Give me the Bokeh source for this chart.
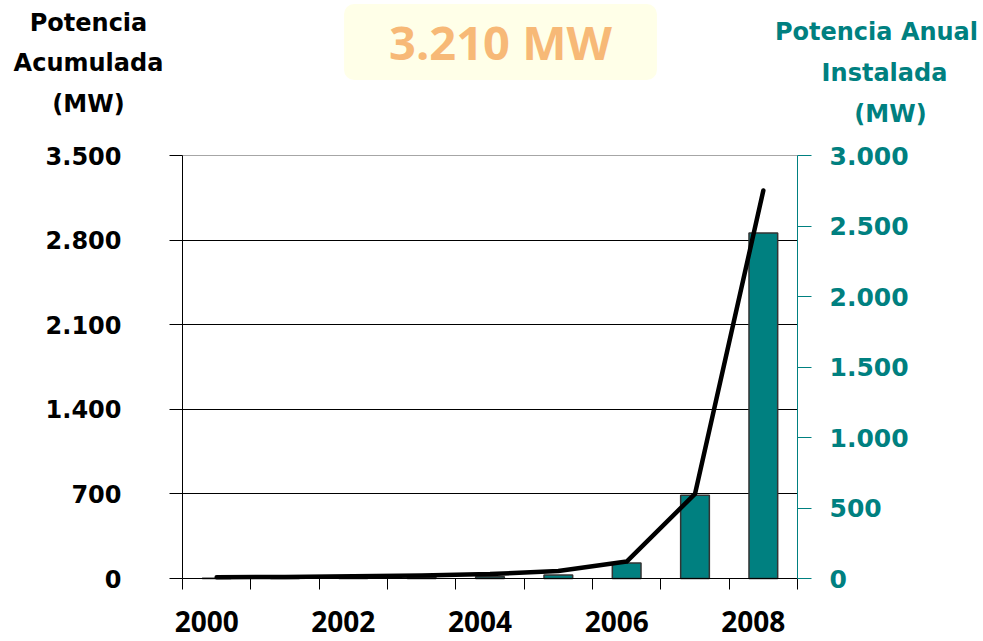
from bokeh.plotting import figure
from bokeh.models import Range1d, LinearAxis, FixedTicker, Label, Grid
from bokeh.embed import file_html
from bokeh.resources import INLINE

# ---- data -------------------------------------------------------------
years = [2000, 2001, 2002, 2003, 2004, 2005, 2006, 2007, 2008]
annual_mw = [2, 3, 5, 7, 12, 25, 110, 590, 2450]          # right axis, bars
cumulative_mw = [10, 13, 18, 25, 37, 62, 140, 700, 3210]   # left axis, line
left_ticks = [0, 700, 1400, 2100, 2800, 3500]
left_tick_labels = ["0", "700", "1.400", "2.100", "2.800", "3.500"]
right_ticks = [0, 500, 1000, 1500, 2000, 2500, 3000]
right_tick_labels = ["0", "500", "1.000", "1.500", "2.000", "2.500", "3.000"]
year_labels = ["2000", "2002", "2004", "2006", "2008"]
total_label = "3.210 MW"
left_title = ["Potencia", "Acumulada", "(MW)"]
right_title = ["Potencia Anual", "Instalada", "(MW)"]

# ---- layout (pixels) ----------------------------------------------------
TEAL = "#008080"
BOLD_FONT = "DejaVu Sans"
W, H = 983, 641
PL, PR, PT, PB = 182, 797, 155, 578      # plot area edges on the canvas

x0, x1 = years[0], years[-1] + 1
left_max, right_max = left_ticks[-1], right_ticks[-1]
xs = (PR - PL) / (x1 - x0)
ysl = (PB - PT) / left_max
ysr = (PB - PT) / right_max

p = figure(width=W, height=H, output_backend="svg", toolbar_location=None,
           title=None,
           x_range=Range1d(x0 - PL / xs, x1 + (W - PR) / xs),
           y_range=Range1d(-(H - PB) / ysl, left_max + PT / ysl),
           min_border_left=0, min_border_right=0, min_border_top=0,
           min_border_bottom=0)
p.extra_y_ranges = {"right": Range1d(-(H - PB) / ysr, right_max + PT / ysr)}
p.background_fill_color = "white"
p.border_fill_color = "white"
p.outline_line_color = None
p.xgrid.visible = False

# horizontal grid lines limited to the plot area
g = p.ygrid[0]
g.ticker = FixedTicker(ticks=left_ticks[1:-1])
g.grid_line_color = "black"
g.grid_line_width = 1
g.cross_bounds = (x0, x1)
p.add_layout(Grid(dimension=1, ticker=FixedTicker(ticks=[left_max]),
                  grid_line_color="#A6A6A6", grid_line_width=1,
                  cross_bounds=(x0, x1)))

# x axis: tick marks at category boundaries (labels drawn below as text)
boundaries = years + [x1]
xa = p.xaxis[0]
xa.fixed_location = 0
xa.bounds = (x0, x1)
xa.ticker = FixedTicker(ticks=boundaries)
xa.major_label_overrides = {b: "" for b in boundaries}
xa.major_label_text_font_size = "0px"
xa.major_tick_out = 11
xa.major_tick_in = 0
xa.minor_tick_out = 0
xa.minor_tick_in = 0
xa.axis_line_color = "black"
xa.major_tick_line_color = "black"

# left axis
ya = p.yaxis[0]
ya.fixed_location = x0
ya.bounds = (0, left_max)
ya.ticker = FixedTicker(ticks=left_ticks)
ya.major_label_overrides = dict(zip(left_ticks, left_tick_labels))
ya.major_label_text_font = BOLD_FONT
ya.major_label_text_font_style = "bold"
ya.major_label_text_font_size = "24px"
ya.major_label_text_color = "black"
ya.major_label_standoff = 48
ya.major_tick_out = 13
ya.major_tick_in = 0
ya.minor_tick_out = 0
ya.minor_tick_in = 0
ya.axis_line_color = "black"
ya.major_tick_line_color = "black"

# right axis
ra = LinearAxis(y_range_name="right", fixed_location=x1, bounds=(0, right_max))
ra.ticker = FixedTicker(ticks=right_ticks)
ra.major_label_overrides = dict(zip(right_ticks, right_tick_labels))
ra.major_label_text_font = BOLD_FONT
ra.major_label_text_font_style = "bold"
ra.major_label_text_font_size = "25px"
ra.major_label_text_color = TEAL
ra.major_label_standoff = 18
ra.major_tick_out = 14
ra.major_tick_in = 0
ra.minor_tick_out = 0
ra.minor_tick_in = 0
ra.axis_line_color = TEAL
ra.major_tick_line_color = TEAL
p.add_layout(ra, "right")

# bars (annual) and line (cumulative)
centers = [y + 0.5 for y in years]
p.vbar(x=centers, top=annual_mw, width=0.42, bottom=0, y_range_name="right",
       fill_color=TEAL, line_color="#333333", line_width=1.5)
p.line(x=centers, y=cumulative_mw, line_color="black", line_width=4.5,
       line_join="round", line_cap="round")

# year labels under the axis
for lbl in year_labels:
    p.add_layout(Label(x=int(lbl) + 0.5, y=H - 621, x_units="data",
                       y_units="screen", x_offset=-10, text=lbl,
                       text_font="Open Sans", text_font_style="bold",
                       text_font_size="28px", text_color="black",
                       text_align="center", text_baseline="middle"))

# axis titles
for txt, yy in zip(left_title, [22, 62, 103]):
    p.add_layout(Label(x=88, y=H - yy, x_units="screen", y_units="screen",
                       text=txt, text_font=BOLD_FONT, text_font_style="bold",
                       text_font_size="24px", text_color="black",
                       text_align="center", text_baseline="middle"))
for txt, xx, yy in zip(right_title, [876, 884, 890], [31, 72, 113]):
    p.add_layout(Label(x=xx, y=H - yy, x_units="screen", y_units="screen",
                       text=txt, text_font=BOLD_FONT, text_font_style="bold",
                       text_font_size="24px", text_color=TEAL,
                       text_align="center", text_baseline="middle"))

# total box
p.add_layout(Label(x=500, y=H - 41.5, x_units="screen", y_units="screen",
                   text=total_label, text_font="Open Sans", text_font_style="bold",
                   text_font_size="47px", text_color="#F7B977",
                   text_align="center", text_baseline="middle",
                   background_fill_color="#FFFFE8", border_radius=10,
                   padding=dict(left=45, right=45, top=6, bottom=6)))

open("out.html", "w").write(file_html(p, INLINE))
